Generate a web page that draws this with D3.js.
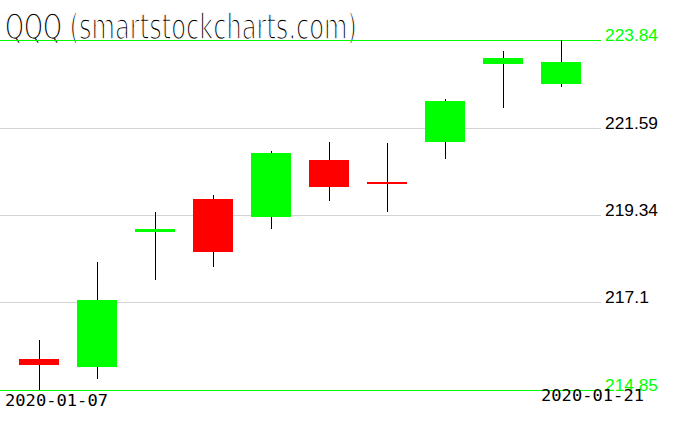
<!DOCTYPE html>
<html>
<head>
<meta charset="utf-8">
<script src="https://cdn.jsdelivr.net/npm/d3@7"></script>
<style>
html,body{margin:0;padding:0;background:#fff;}
svg{display:block;}
</style>
</head>
<body>
<script>
const title = "QQQ (smartstockcharts.com)";
const dates = ["2020-01-07","2020-01-08","2020-01-09","2020-01-10","2020-01-13","2020-01-14","2020-01-15","2020-01-16","2020-01-17","2020-01-21"];
const opens  = [215.65, 215.45, 218.91, 219.76, 219.30, 220.76, 220.19, 221.23, 223.23, 222.72];
const highs  = [216.13, 218.14, 219.42, 219.86, 220.99, 221.22, 221.20, 222.33, 223.56, 223.84];
const lows   = [214.85, 215.14, 217.68, 218.02, 218.98, 219.71, 219.43, 220.79, 222.10, 222.64];
const closes = [215.50, 217.16, 218.99, 218.40, 220.95, 220.07, 220.14, 222.27, 223.38, 223.28];
const yTicks = [214.85, 217.1, 219.34, 221.59, 223.84];
const yTickLabels = ["214.85", "217.1", "219.34", "221.59", "223.84"];

const W = 676, H = 431;
const svg = d3.select("body").append("svg").attr("width", W).attr("height", H);

const x = d3.scaleBand().domain(dates).range([10, 590]);
const y = d3.scaleLinear().domain([214.85, 223.84]).range([390, 40]);
const lineX0 = 0, lineX1 = 601;

// title (drawn first so the green line crosses it)
svg.append("text")
  .attr("x", 5).attr("y", 39)
  .attr("font-family", "'DejaVu Sans'")
  .attr("font-size", 35)
  .attr("textLength", 352)
  .attr("lengthAdjust", "spacingAndGlyphs")
  .attr("fill", "#000")
  .attr("stroke", "#fff")
  .attr("stroke-width", 1.6)
  .attr("paint-order", "fill")
  .text(title);

// grid lines
yTicks.forEach((v, i) => {
  const isEdge = (i === 0 || i === yTicks.length - 1);
  const yy = Math.round(y(v)) + 0.5;
  svg.append("line")
    .attr("x1", lineX0).attr("x2", lineX1)
    .attr("y1", yy).attr("y2", yy)
    .attr("stroke", isEdge ? "#00ff00" : "#d3d3d3")
    .attr("stroke-width", 1)
    .attr("shape-rendering", "crispEdges");
});

// candles
const data = dates.map((d, i) => ({d, o: opens[i], h: highs[i], l: lows[i], c: closes[i]}));
const g = svg.append("g").attr("shape-rendering", "crispEdges");
data.forEach(r => {
  const cx = Math.floor(x(r.d) + x.bandwidth() / 2);
  g.append("line")
    .attr("x1", cx + 0.5).attr("x2", cx + 0.5)
    .attr("y1", y(r.h)).attr("y2", y(r.l))
    .attr("stroke", "#000").attr("stroke-width", 1);
  const top = y(Math.max(r.o, r.c)), bot = y(Math.min(r.o, r.c));
  g.append("rect")
    .attr("x", cx - 20).attr("width", 40)
    .attr("y", top).attr("height", Math.max(2, bot - top))
    .attr("fill", r.c >= r.o ? "#00ff00" : "#ff0000");
});

// right labels
yTicks.forEach((v, i) => {
  const isEdge = (i === 0 || i === yTicks.length - 1);
  const lbl = yTickLabels[i];
  svg.append("text")
    .attr("x", 605).attr("y", Math.round(y(v)) + 1)
    .attr("font-family", "'Liberation Sans'")
    .attr("font-size", 16.5)
    .attr("textLength", lbl.length === 6 ? 53 : 44)
    .attr("lengthAdjust", "spacingAndGlyphs")
    .attr("fill", isEdge ? "#00ff00" : "#000")
    .text(lbl);
});

// date labels
svg.append("text")
  .attr("x", 5).attr("y", 406)
  .attr("font-family", "'DejaVu Sans Mono'")
  .attr("font-size", 15.5)
  .attr("textLength", 103)
  .attr("lengthAdjust", "spacingAndGlyphs")
  .attr("fill", "#000")
  .text(dates[0]);
svg.append("text")
  .attr("x", 541).attr("y", 401)
  .attr("font-family", "'DejaVu Sans Mono'")
  .attr("font-size", 15.5)
  .attr("textLength", 103)
  .attr("lengthAdjust", "spacingAndGlyphs")
  .attr("fill", "#000")
  .text(dates[dates.length - 1]);
</script>
</body>
</html>
